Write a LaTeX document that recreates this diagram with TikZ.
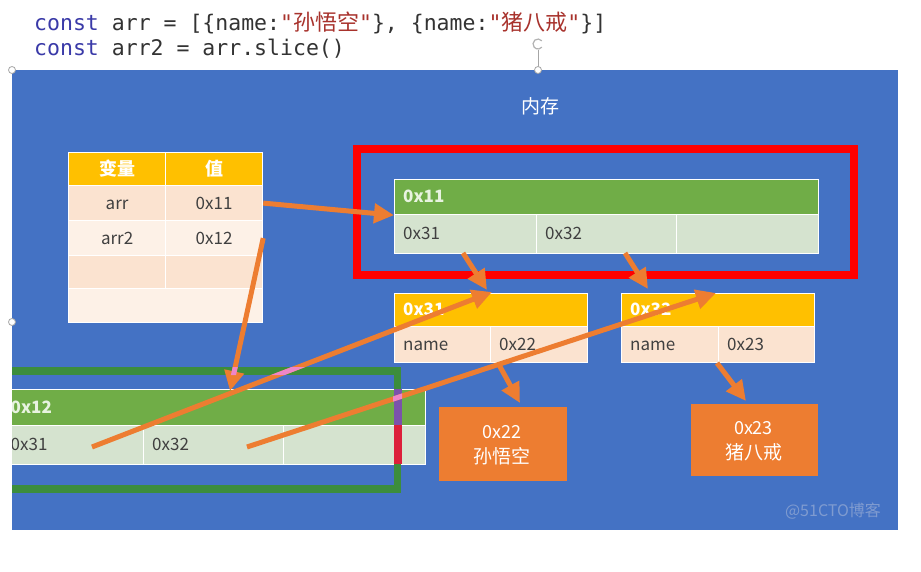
\documentclass[tikz,border=0pt]{standalone}
\usepackage{fontspec}
\newfontfamily\cjk{Noto Sans CJK SC}
\newfontfamily\mono{DejaVu Sans Mono}
\usetikzlibrary{arrows.meta}
\definecolor{bgblue}{HTML}{4472C4}
\definecolor{yel}{HTML}{FFC000}
\definecolor{rowA}{HTML}{FBE3D0}
\definecolor{rowB}{HTML}{FDF1E7}
\definecolor{greenH}{HTML}{70AD47}
\definecolor{greenR}{HTML}{D5E3CF}
\definecolor{orangeB}{HTML}{ED7D31}
\definecolor{arrorange}{HTML}{ED7D31}
\definecolor{redframe}{HTML}{FF0000}
\definecolor{gframe}{HTML}{3C8D3C}
\definecolor{purp}{HTML}{7B52AB}
\definecolor{redseg}{HTML}{DC1F3A}
\definecolor{pinkx}{HTML}{EE86C8}
\definecolor{txtgray}{HTML}{404040}
\definecolor{hdlight}{HTML}{E8F3E0}
\definecolor{kw}{HTML}{3A3AA8}
\definecolor{str}{HTML}{A8322C}
\definecolor{codegray}{HTML}{333333}
\definecolor{wm}{HTML}{7F9BD0}
\newcommand\mkcell[6]{\node[cellbox, fill=#6, minimum width=#4pt, minimum height=#5pt] (#1) at (#2,#3) {};}
\begin{document}
\begin{tikzpicture}[x=1pt,y=-1pt,
  cellbox/.style={draw=white, line width=1.2pt, inner sep=0pt, anchor=north west},
  celltxt/.style={anchor=west, inner sep=0pt, text height=12.5pt, text depth=0.5pt, font=\cjk\fontsize{17}{20}\selectfont, text=txtgray},
  ctrtxt/.style={inner sep=0pt, text height=12.5pt, text depth=0.5pt, font=\cjk\fontsize{17}{20}\selectfont, text=txtgray},
  hdtxt/.style={anchor=west, inner sep=0pt, text height=12.5pt, text depth=0.5pt, font=\cjk\bfseries\fontsize{17}{20}\selectfont},
  arrowline/.style={draw=arrorange, line width=5pt, -{Triangle[length=20pt,width=19pt]}},
  codetxt/.style={anchor=base west, inner sep=0pt, font=\mono\fontsize{21.5}{24}\selectfont, text=codegray},
  handle/.style={draw=gray!70, fill=white, line width=0.8pt},
]
\fill[white] (0,0) rectangle (921,572);
\useasboundingbox (0,0) rectangle (921,572);
\fill[bgblue] (12,70) rectangle (898,530);

% code
\node[codetxt] (code1) at (34,31) {\textcolor{kw}{const} arr = [\{name:\textcolor{str}{"{\cjk\fontsize{22}{24}\selectfont 孙悟空}"}\}, \{name:\textcolor{str}{"{\cjk\fontsize{22}{24}\selectfont 猪八戒}"}\}]};
\node[codetxt] (code2) at (34,56) {\textcolor{kw}{const} arr2 = arr.slice()};

% selection handles
\draw[gray!70, line width=0.8pt] (538,50) -- (538,70);
\draw[gray!60, line width=1.2pt] (538,44) ++(40:5pt) arc[start angle=40, end angle=320, radius=5pt];
\draw[handle] (12,70) circle (3.5pt);
\draw[handle] (538,70) circle (3.5pt);
\draw[handle] (12,322) circle (3.5pt);

\node[font=\cjk\fontsize{19}{22}\selectfont, text=white] (mem) at (540,106) {内存};

% variable table
\mkcell{th1}{68}{152}{97}{33}{yel}
\mkcell{th2}{165}{152}{97}{33}{yel}
\mkcell{r1a}{68}{185}{97}{35}{rowA}
\mkcell{r1b}{165}{185}{97}{35}{rowA}
\mkcell{r2a}{68}{220}{97}{35}{rowB}
\mkcell{r2b}{165}{220}{97}{35}{rowB}
\mkcell{r3a}{68}{255}{97}{33}{rowA}
\mkcell{r3b}{165}{255}{97}{33}{rowA}
\mkcell{r4}{68}{288}{194}{34}{rowB}
\node[ctrtxt, font=\cjk\bfseries\fontsize{18}{20}\selectfont, text=white] (th1t) at (th1.center) {变量};
\node[ctrtxt, font=\cjk\bfseries\fontsize{18}{20}\selectfont, text=white] (th2t) at (th2.center) {值};
\node[ctrtxt] (r1at) at (r1a.center) {arr};
\node[ctrtxt] (r1bt) at (r1b.center) {0x11};
\node[ctrtxt] (r2at) at (r2a.center) {arr2};
\node[ctrtxt] (r2bt) at (r2b.center) {0x12};

% red frame
\draw[redframe, line width=8pt] (357,149) rectangle (854,275);

% 0x11 box
\mkcell{h11}{394}{179}{424}{35}{greenH}
\mkcell{c11a}{394}{214}{142}{39}{greenR}
\mkcell{c11b}{536}{214}{140}{39}{greenR}
\mkcell{c11c}{676}{214}{142}{39}{greenR}
\node[hdtxt, text=hdlight] (h11t) at (403,196.5) {0x11};
\node[celltxt] (c11at) at (403,233.5) {0x31};
\node[celltxt] (c11bt) at (545,233.5) {0x32};

% 0x31 box
\mkcell{h31}{394}{293}{193}{33}{yel}
\mkcell{c31a}{394}{326}{96}{36}{rowA}
\mkcell{c31b}{490}{326}{97}{36}{rowA}
\node[hdtxt, text=white] (h31t) at (403,309.5) {0x31};
\node[celltxt] (c31at) at (403,344) {name};
\node[celltxt] (c31bt) at (499,344) {0x22};

% 0x32 box
\mkcell{h32}{621}{293}{193}{33}{yel}
\mkcell{c32a}{621}{326}{97}{36}{rowA}
\mkcell{c32b}{718}{326}{96}{36}{rowA}
\node[hdtxt, text=white] (h32t) at (630,309.5) {0x32};
\node[celltxt] (c32at) at (630,344) {name};
\node[celltxt] (c32bt) at (727,344) {0x23};

% value boxes
\node[cellbox, draw=none, fill=orangeB, minimum width=128pt, minimum height=74pt] (v22) at (438,406) {};
\node[cellbox, draw=none, fill=orangeB, minimum width=127pt, minimum height=72pt] (v23) at (690,403) {};
\node[ctrtxt, text=white, font=\cjk\fontsize{18}{20}\selectfont] (v22a) at (502,432) {0x22};
\node[ctrtxt, text=white, font=\cjk\fontsize{19}{20}\selectfont] (v22b) at (502,457) {孙悟空};
\node[ctrtxt, text=white, font=\cjk\fontsize{18}{20}\selectfont] (v23a) at (753.5,428) {0x23};
\node[ctrtxt, text=white, font=\cjk\fontsize{19}{20}\selectfont] (v23b) at (753.5,453) {猪八戒};

% 0x12 box and green frame
\begin{scope}
\clip (12,70) rectangle (898,530);
\mkcell{h12}{6}{389}{419}{36}{greenH}
\mkcell{c12a}{6}{425}{137}{39}{greenR}
\mkcell{c12b}{143}{425}{140}{39}{greenR}
\mkcell{c12c}{283}{425}{142}{39}{greenR}
\node[hdtxt, text=hdlight] (h12t) at (10.5,407) {0x12};
\node[celltxt] (c12at) at (10.5,444.5) {0x31};
\node[celltxt] (c12bt) at (152,444.5) {0x32};
\draw[gframe, line width=7.5pt] (4,371) rectangle (397.5,489);
\end{scope}
\draw[purp, line width=8pt] (397.5,389) -- (397.5,425);
\draw[redseg, line width=8pt] (397.5,425) -- (397.5,464);

% arrow end points
\coordinate (a2e) at (230,391);
\coordinate (a3s) at (92,447);
\coordinate (a3e) at (492,292);
\coordinate (a4s) at (247,447);
\coordinate (a4e) at (716,293);
\coordinate (a5s) at (463,253);
\coordinate (a5e) at (487,290);
\coordinate (a6s) at (625,253);
\coordinate (a6e) at (648,289);
\coordinate (a7s) at (498,363);
\coordinate (a7e) at (520,403);
\coordinate (a8s) at (717,363);
\coordinate (a8e) at (746,401);

% arrows
\draw[arrowline] (r1b.east) -- (h11.south west);
\draw[arrowline] (r2b.east) -- (a2e);
\draw[arrowline] (a3s) -- (a3e);
\draw[arrowline] (a4s) -- (a4e);
\draw[arrowline] (a5s) -- (a5e);
\draw[arrowline] (a6s) -- (a6e);
\draw[arrowline] (a7s) -- (a7e);
\draw[arrowline] (a8s) -- (a8e);

% pink where arrows cross the green frame
\begin{scope}
\clip (12,367) rectangle (402,375) (393,367) rectangle (402,425);
\draw[pinkx, line width=5pt] (r2b.east) -- (a2e);
\draw[pinkx, line width=5pt] (a3s) -- (a3e);
\draw[pinkx, line width=5pt] (a4s) -- (a4e);
\end{scope}

\node[font=\cjk\fontsize{16}{18}\selectfont, text=wm] (wmk) at (833,511) {@51CTO博客};
\end{tikzpicture}
\end{document}
